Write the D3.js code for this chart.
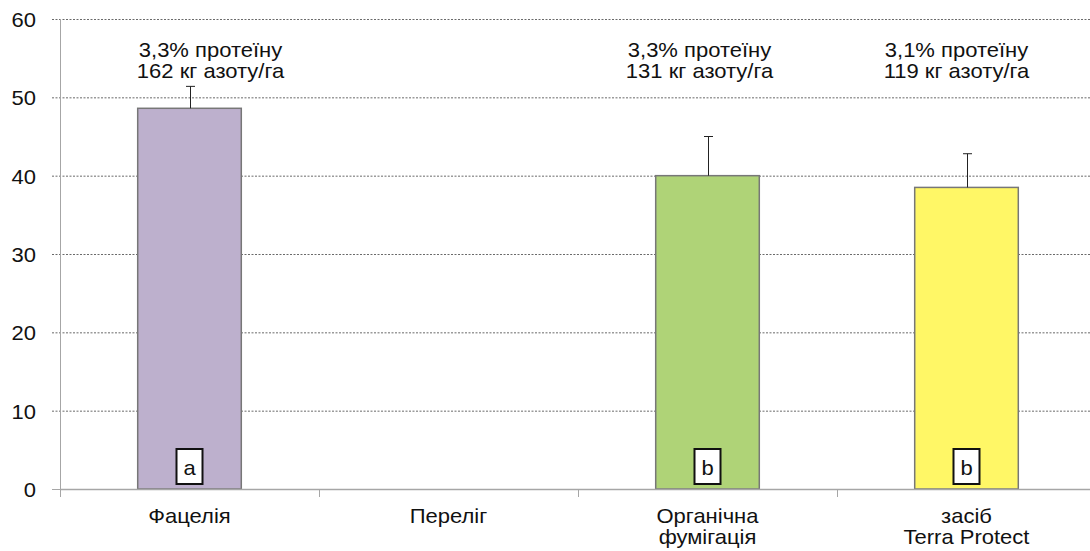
<!DOCTYPE html>
<html>
<head>
<meta charset="utf-8">
<script src="https://cdn.jsdelivr.net/npm/d3@7"></script>
<style>
  body { margin: 0; background: #fff; }
  text { font-family: "Liberation Sans", Arial, sans-serif; fill: #111; }
</style>
</head>
<body>
<div id="chart"></div>
<script>
// data
var categories = ["Фацелія", "Переліг", "Органічна\nфумігація", "засіб\nTerra Protect"];
var values = [48.6, 0, 40.0, 38.5];
var errors = [2.8, 0, 5.0, 4.3];
var groups = ["a", "", "b", "b"];
var notes = [
    ["3,3% протеїну", "162 кг азоту/га"],
    null,
    ["3,3% протеїну", "131 кг азоту/га"],
    ["3,1% протеїну", "119 кг азоту/га"]
];
var colors = ["#bdb0cd", "none", "#afd377", "#fff766"];
var yTicks = [0, 10, 20, 30, 40, 50, 60];

var svgWidth = 1090;
var svgHeight = 551;
var margin = {top: 19, right: -6, bottom: 62, left: 60};
var width = svgWidth - margin.left - margin.right;
var height = svgHeight - margin.top - margin.bottom;

var fontSize = 20;
var stretch = 1.1;
var noteShift = [21, 0, -8, -10];

var svg = d3.select("#chart").append("svg")
    .attr("width", svgWidth)
    .attr("height", svgHeight);

var chartGroup = svg.append("g")
    .attr("transform", `translate(${margin.left}, ${margin.top})`);

var x = d3.scaleBand()
    .domain(d3.range(categories.length))
    .range([0, width])
    .paddingInner(0.6)
    .paddingOuter(0.3);

var y = d3.scaleLinear()
    .domain([0, 60])
    .range([height, 0]);

// slightly wide text like the original
function label(g, px, py, str, anchor) {
    return g.append("text")
        .attr("transform", `translate(${px}, ${py}) scale(${stretch}, 1)`)
        .attr("text-anchor", anchor || "middle")
        .attr("font-size", fontSize + "px")
        .text(str);
}

// gridlines
chartGroup.selectAll(".grid")
    .data(yTicks.filter(d => d > 0))
    .enter().append("line")
    .attr("x1", -8).attr("x2", width)
    .attr("y1", d => y(d) + 0.5).attr("y2", d => y(d) + 0.5)
    .attr("stroke", "#444")
    .attr("stroke-width", 0.8)
    .attr("stroke-dasharray", "2,1.5");

// y axis
chartGroup.append("line")
    .attr("x1", 0.5).attr("x2", 0.5)
    .attr("y1", 0).attr("y2", height + 8)
    .attr("stroke", "#a6a6a6");
chartGroup.append("line")
    .attr("x1", -8).attr("x2", 0)
    .attr("y1", y(0) + 0.5).attr("y2", y(0) + 0.5)
    .attr("stroke", "#a6a6a6");

yTicks.forEach(function(t) {
    label(chartGroup, -24, y(t) + 8, t, "end");
});

// bars
var idx = d3.range(categories.length).filter(i => values[i] > 0);

chartGroup.selectAll(".bar")
    .data(idx)
    .enter().append("rect")
    .attr("x", i => x(i))
    .attr("y", i => y(values[i]))
    .attr("width", x.bandwidth())
    .attr("height", i => y(0) - y(values[i]))
    .attr("fill", i => colors[i])
    .attr("stroke", "#777")
    .attr("stroke-width", 1.5);

// error bars (upper only)
idx.forEach(function(i) {
    var cx = Math.round(x(i) + x.bandwidth() / 2) + 0.5;
    chartGroup.append("line")
        .attr("x1", cx).attr("x2", cx)
        .attr("y1", y(values[i])).attr("y2", y(values[i] + errors[i]))
        .attr("stroke", "#222");
    chartGroup.append("line")
        .attr("x1", cx - 4.5).attr("x2", cx + 4.5)
        .attr("y1", y(values[i] + errors[i])).attr("y2", y(values[i] + errors[i]))
        .attr("stroke", "#222");
});

// x axis
chartGroup.append("line")
    .attr("x1", 0).attr("x2", width)
    .attr("y1", y(0) + 0.5).attr("y2", y(0) + 0.5)
    .attr("stroke", "#a6a6a6")
    .attr("stroke-width", 1.5);
d3.range(1, categories.length).forEach(function(i) {
    var tx = Math.round(x.step() * i) + 0.5;
    chartGroup.append("line")
        .attr("x1", tx).attr("x2", tx)
        .attr("y1", y(0)).attr("y2", y(0) + 8)
        .attr("stroke", "#a6a6a6");
});

// letter boxes
idx.forEach(function(i) {
    var cx = x(i) + x.bandwidth() / 2;
    chartGroup.append("rect")
        .attr("x", cx - 13).attr("y", y(0) - 40)
        .attr("width", 26).attr("height", 35)
        .attr("fill", "#fff")
        .attr("stroke", "#111")
        .attr("stroke-width", 2);
    label(chartGroup, cx, y(0) - 14, groups[i]);
});

// category labels
categories.forEach(function(c, i) {
    var cx = x(i) + x.bandwidth() / 2;
    c.split("\n").forEach(function(line, k) {
        label(chartGroup, cx, y(0) + 34 + k * 21, line);
    });
});

// notes above bars
notes.forEach(function(n, i) {
    if (!n) return;
    var cx = x(i) + x.bandwidth() / 2 + noteShift[i];
    n.forEach(function(line, k) {
        label(svg, margin.left + cx, 57 + k * 21, line);
    });
});
</script>
</body>
</html>
